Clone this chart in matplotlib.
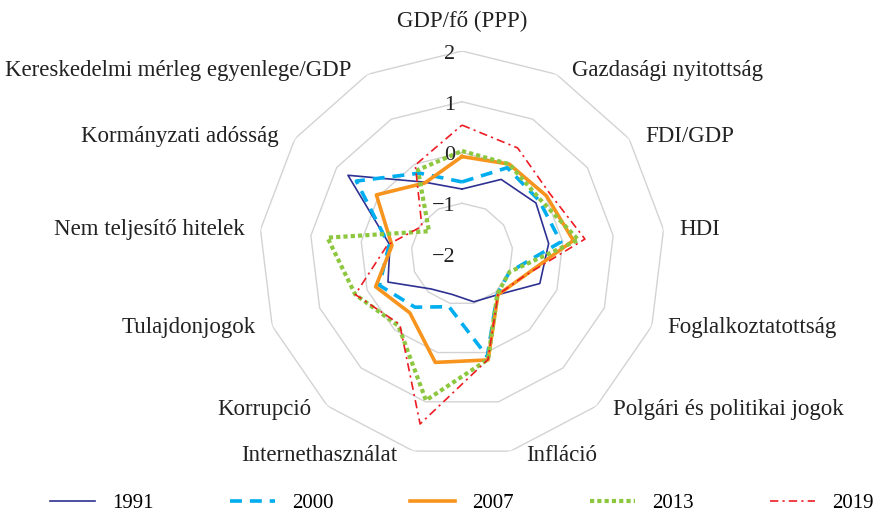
import numpy as np
import matplotlib.pyplot as plt

categories = ['GDP/fő (PPP)', 'Gazdasági nyitottság', 'FDI/GDP', 'HDI',
              'Foglalkoztatottság', 'Polgári és politikai jogok', 'Infláció',
              'Internethasználat', 'Korrupció', 'Tulajdonjogok',
              'Nem teljesítő hitelek', 'Kormányzati adósság',
              'Kereskedelmi mérleg egyenlege/GDP']
years = ['1991', '2000', '2007', '2013', '2019']

v1991 = [-0.72, -0.34, -0.23, -0.28, -0.36, -0.93, -1.03, -1.18, -1.08, -0.44, -0.57, 0.73, -0.40]
v2000 = [-0.58, -0.08, -0.15, -0.04, -1.00, -0.95, 0.08, -0.93, -0.60, -0.26, -0.55, 0.53, -0.20]
v2007 = [-0.08, 0.00, 0.02, 0.21, -0.72, -0.93, 0.15, 0.20, -0.45, -0.18, -0.61, 0.05, -0.42]
v2013 = [0.03, 0.00, -0.12, 0.31, -1.00, -0.95, 0.14, 0.97, -0.11, 0.25, 0.67, -1.21, -0.13]
v2019 = [0.54, 0.36, 0.10, 0.44, -0.72, -0.93, 0.14, 1.45, -0.15, 0.25, -0.52, -1.04, -0.02]

ring_values = [-2, -1, 0, 1, 2]
ring_labels = ['\u22122', '\u22121', '0', '1', '2']

plt.rcParams['font.family'] = ['Liberation Serif', 'DejaVu Serif']

series = [v1991, v2000, v2007, v2013, v2019]
styles = [
    dict(color='#2E3192', lw=1.2, linestyle='-'),
    dict(color='#00AEEF', lw=2.6, linestyle=(0, (3.3, 2.2))),
    dict(color='#F7941D', lw=2.6, linestyle='-'),
    dict(color='#8DC63F', lw=3.0, linestyle=(0, (1, 0.75)), dash_capstyle='butt'),
    dict(color='#ED1C24', lw=1.2, linestyle=(0, (5, 2.5, 1.3, 2.5))),
]

n = len(categories)
angles = np.linspace(0, 2 * np.pi, n, endpoint=False)
closed = np.append(angles, angles[0])

fig = plt.figure(figsize=(8.75, 5.13), dpi=100)
ax = fig.add_axes([259 / 875, 56 / 513, 406 / 875, 406 / 513], projection='polar')
ax.set_theta_zero_location('N')
ax.set_theta_direction(-1)
ax.set_ylim(-2, 2)
ax.grid(False)
ax.spines['polar'].set_visible(False)
ax.set_xticks([])
ax.set_yticks([])

# gridrings
for v in ring_values[1:]:
    ax.plot(closed, [v] * (n + 1), color='#d3d3d3', lw=1, zorder=1)

for vals, st, yr in zip(series, styles, years):
    ax.plot(closed, vals + vals[:1], label=yr, zorder=3, **st)

for v, lab in zip(ring_values, ring_labels):
    ax.annotate(lab, xy=(0, v), xytext=(-5, -2.5), textcoords='offset points',
                ha='right', va='center', fontsize=16, color='#222222', zorder=4)

for cat, a in zip(categories, angles):
    s, c = np.sin(a), np.cos(a)
    if abs(s) < 0.01:
        ax.annotate(cat, xy=(a, 2), xytext=(0, 21), textcoords='offset points',
                    ha='center', va='center', fontsize=16.5, color='#222222')
    else:
        ha = 'left' if s > 0 else 'right'
        ax.annotate(cat, xy=(a, 2), xytext=(11.5 * np.sign(s), 3 * c),
                    textcoords='offset points', ha=ha, va='center',
                    fontsize=16.5, color='#222222')

handles, labels = ax.get_legend_handles_labels()
fig.legend(handles, labels, ncol=5, loc='center left',
           bbox_to_anchor=(50 / 875, 10 / 513), frameon=False, fontsize=15,
           handlelength=2.16, handletextpad=0.82, columnspacing=3.66,
           borderpad=0, borderaxespad=0)

fig.savefig('out.png', dpi=100)
